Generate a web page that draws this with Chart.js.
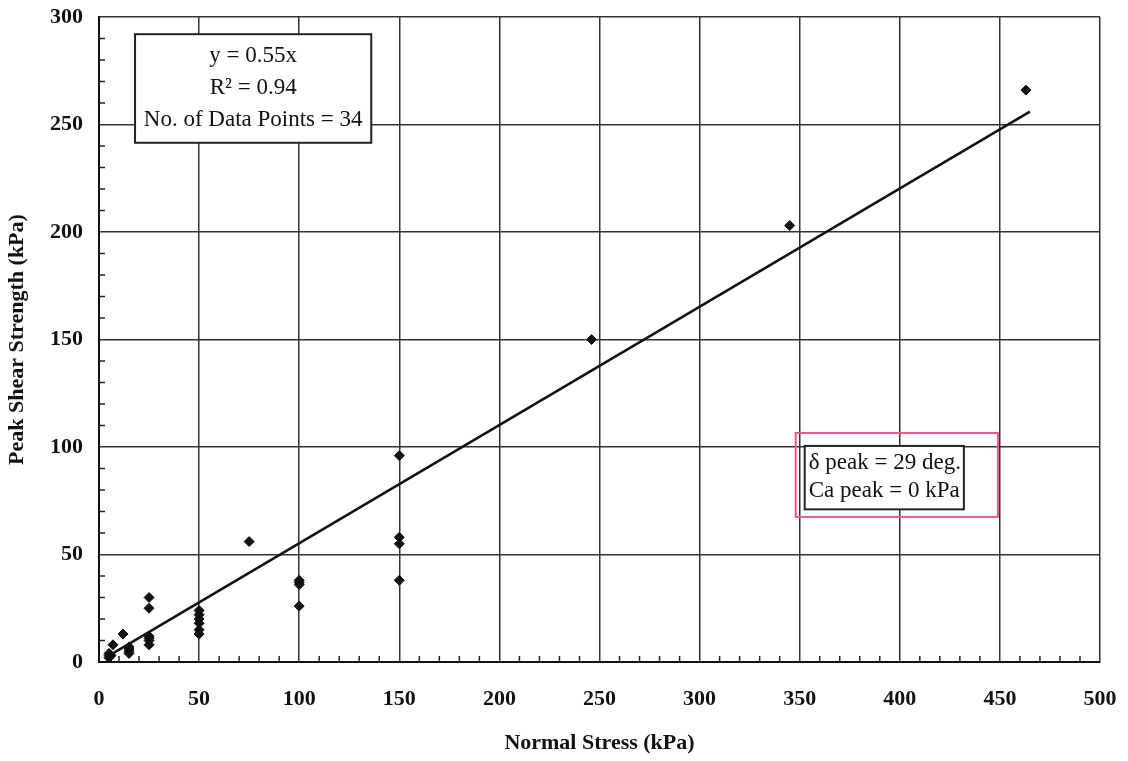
<!DOCTYPE html>
<html>
<head>
<meta charset="utf-8">
<script src="https://cdn.jsdelivr.net/npm/chart.js@4/dist/chart.umd.min.js"></script>
<style>
  html, body { margin: 0; padding: 0; background: #fff; }
  #wrap { width: 1128px; height: 761px; }
</style>
</head>
<body>
<div id="wrap"><canvas id="myChart" width="1128" height="761"></canvas></div>
<script>
const normalStress = [5, 5, 5, 6, 7, 12, 15, 15, 15, 25, 25, 25, 25, 25, 25,
  50, 50, 50, 50, 50, 50, 75, 100, 100, 100, 100, 150, 150, 150, 150, 246, 345, 463, 15];
const peakShear = [2, 3, 4, 3, 8, 13, 5, 6, 7, 30, 25, 12, 10, 8, 11,
  24, 20, 18, 15, 13, 22, 56, 38, 37, 36, 26, 96, 58, 55, 38, 150, 203, 266, 4];

// fitted line y = 0.55x, end points as drawn
const fitX = [5, 465];
const fitY = [3, 256];

const xTicks = [0, 50, 100, 150, 200, 250, 300, 350, 400, 450, 500];
const yTicks = [0, 50, 100, 150, 200, 250, 300];

const boxLines = ["y = 0.55x", "R\u00b2 = 0.94", "No. of Data Points = 34"];
const peakLines = ["\u03b4 peak = 29 deg.", "Ca peak = 0 kPa"];

const serif = "'Liberation Serif', 'DejaVu Serif', serif";

const points = normalStress.map((x, i) => ({ x: x, y: peakShear[i] }));
const fit = fitX.map((x, i) => ({ x: x, y: fitY[i] }));

// small inward ticks every 10 kPa, plus the text boxes
const extras = {
  id: "extras",
  afterDraw(chart) {
    const ctx = chart.ctx;
    const xs = chart.scales.x, ys = chart.scales.y;
    const a = chart.chartArea;
    ctx.save();
    ctx.strokeStyle = "#222";
    ctx.lineWidth = 1.5;
    for (let v = 10; v < 500; v += 10) {
      if (v % 50 === 0) continue;
      const px = xs.getPixelForValue(v);
      ctx.beginPath(); ctx.moveTo(px, a.bottom); ctx.lineTo(px, a.bottom - 6); ctx.stroke();
    }
    for (let v = 10; v < 300; v += 10) {
      if (v % 50 === 0) continue;
      const py = ys.getPixelForValue(v);
      ctx.beginPath(); ctx.moveTo(a.left, py); ctx.lineTo(a.left + 6, py); ctx.stroke();
    }

    // equation box
    let l = xs.getPixelForValue(18), r = xs.getPixelForValue(136);
    let t = ys.getPixelForValue(292), b = ys.getPixelForValue(241.5);
    ctx.fillStyle = "#fff";
    ctx.fillRect(l, t, r - l, b - t);
    ctx.strokeStyle = "#222";
    ctx.lineWidth = 2;
    ctx.strokeRect(l, t, r - l, b - t);
    ctx.fillStyle = "#111";
    ctx.font = "23px " + serif;
    ctx.textAlign = "center";
    ctx.textBaseline = "middle";
    boxLines.forEach((s, i) => ctx.fillText(s, (l + r) / 2, t + 22 + i * 32));

    // pink outline
    let pl = xs.getPixelForValue(348), pr = xs.getPixelForValue(449);
    let pt = ys.getPixelForValue(106.5), pb = ys.getPixelForValue(67.5);
    ctx.strokeStyle = "#ec5a86";
    ctx.lineWidth = 2;
    ctx.strokeRect(pl, pt, pr - pl, pb - pt);

    // peak box
    l = xs.getPixelForValue(352.5); r = xs.getPixelForValue(432);
    t = ys.getPixelForValue(100.5); b = ys.getPixelForValue(71);
    ctx.fillStyle = "#fff";
    ctx.fillRect(l, t, r - l, b - t);
    ctx.strokeStyle = "#222";
    ctx.strokeRect(l, t, r - l, b - t);
    ctx.fillStyle = "#111";
    ctx.textAlign = "left";
    peakLines.forEach((s, i) => ctx.fillText(s, l + 4, t + 17 + i * 28));
    ctx.restore();
  }
};

new Chart(document.getElementById("myChart"), {
  type: "scatter",
  data: {
    datasets: [
      {
        label: "Peak shear",
        data: points,
        pointStyle: "rectRot",
        pointRadius: 5,
        backgroundColor: "#111",
        borderColor: "#111",
        borderWidth: 1
      },
      {
        type: "line",
        label: "Fit",
        data: fit,
        borderColor: "#111",
        borderWidth: 2.5,
        pointRadius: 0,
        fill: false
      }
    ]
  },
  options: {
    responsive: false,
    animation: false,
    layout: { padding: { top: 17, right: 28, left: 0, bottom: 0 } },
    plugins: { legend: { display: false }, tooltip: { enabled: false } },
    scales: {
      x: {
        type: "linear",
        min: 0, max: 500,
        afterBuildTicks: s => { s.ticks = xTicks.map(v => ({ value: v })); },
        afterFit: s => { s.height = 99; s.paddingLeft = 0; s.paddingRight = 0; },
        grid: { color: "#333", lineWidth: 1.5, drawTicks: false },
        border: { color: "#111", width: 2 },
        ticks: { color: "#111", padding: 24, font: { family: serif, size: 22, weight: "bold" } },
        title: {
          display: true, text: "Normal Stress (kPa)", color: "#111",
          padding: { top: 12 },
          font: { family: serif, size: 22, weight: "bold" }
        }
      },
      y: {
        type: "linear",
        min: 0, max: 300,
        afterBuildTicks: s => { s.ticks = yTicks.map(v => ({ value: v })); },
        afterFit: s => { s.width = 99; s.paddingTop = 0; s.paddingBottom = 0; },
        grid: { color: "#333", lineWidth: 1.5, drawTicks: false },
        border: { color: "#111", width: 2 },
        ticks: { color: "#111", padding: 16, font: { family: serif, size: 22, weight: "bold" } },
        title: {
          display: true, text: "Peak Shear Strength (kPa)", color: "#111",
          padding: { bottom: 2 },
          font: { family: serif, size: 22, weight: "bold" }
        }
      }
    }
  },
  plugins: [extras]
});
</script>
</body>
</html>
